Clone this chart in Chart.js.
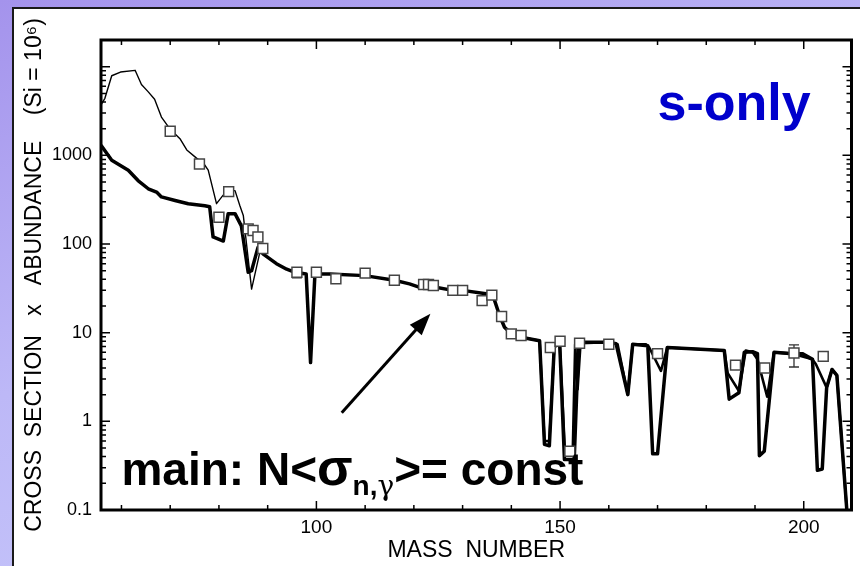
<!DOCTYPE html>
<html>
<head>
<meta charset="utf-8">
<script src="https://cdn.jsdelivr.net/npm/chart.js@4/dist/chart.umd.min.js"></script>
<style>
  html, body { margin: 0; padding: 0; }
  body {
    width: 860px; height: 566px; overflow: hidden; position: relative;
    background: linear-gradient(160deg, #a493ec 0%, #bdb8f7 45%, #cacdfc 100%);
  }
  #panel {
    position: absolute; left: 12px; top: 7px; right: 0; bottom: 0;
    background: #fff; border-left: 2px solid #1a1a1a; border-top: 2px solid #1a1a1a;
  }
  #chart { position: absolute; left: 0; top: 0; }
</style>
</head>
<body>
<div id="panel"></div>
<canvas id="chart" width="860" height="566"></canvas>
<script>
// main s-process component, sigma*N (Si = 10^6)
const mainMass = [55.8, 58, 61.4, 63.4, 65.5, 67.2, 68.2, 71, 73.7, 77.1, 78.1, 78.8, 80.9, 81.9, 83.3, 84.6,
  86, 86.7, 88, 89.1, 91.8, 93.9, 95.6, 97.9, 98.8, 99.7, 102.7, 109.9, 116, 119.1, 121.2, 123.9, 128, 130,
  134.8, 136.2, 137.6, 138.6, 140, 142, 145.8, 146.8, 147.8, 148.8, 149.9, 150.9, 152.9, 153.8, 155, 159.8,
  161.5, 163.9, 164.9, 168, 169, 170, 172, 183.7, 184.7, 186.7, 187.8, 189.5, 190.5, 190.9, 191.9, 193.9,
  197.7, 199.7, 201.8, 202.8, 203.8, 204.7, 205.8, 206.8, 208.9];
const mainSigmaN = [1300, 880, 680, 520, 420, 385, 340, 310, 285, 270, 263, 120, 108, 220, 220, 160,
  48, 50, 91, 77, 60, 52, 48, 46, 4.6, 46, 46, 44, 39, 35.5, 32.5, 33, 30, 30,
  27.5, 26.5, 15.5, 11.5, 9.7, 8.9, 8.1, 0.55, 0.53, 6.8, 8.1, 0.37, 0.37, 7.6, 7.8, 7.8,
  7.5, 2.0, 7.4, 7.1, 0.43, 0.43, 6.8, 6.3, 1.78, 2.1, 6.0, 6.1, 5.8, 0.41, 0.46, 6.0,
  5.8, 5.8, 5.0, 0.28, 0.29, 2.4, 3.85, 3.3, 0.09];

// main + weak components
const totalMass = [55.8, 56.6, 58, 59.8, 62.8, 64.1, 65.5, 66.8, 68.2, 69.9, 72, 73.4, 75.4, 76.8, 77.8,
  79.5, 81.6, 83.3, 84.3, 85, 86.7, 88.4, 89.1, 91.8, 93.9, 95.6, 97.9, 98.8, 99.7, 102.7, 109.9, 116,
  119.1, 121.2, 123.9, 128, 130, 134.8, 136.2, 137.6, 138.6, 140, 142, 145.8, 146.8, 147.8, 148.8, 149.9,
  151, 152.6, 153.1, 153.6, 154.2, 159.8, 161.8, 162.6, 163.9, 164.9, 167.6, 168.3, 170.7, 172, 183.7,
  184.4, 186.7, 188.1, 189.5, 190.5, 192.5, 193.9, 197.7, 201.8, 202.5, 204.7, 205.8, 206.8, 208.9];
const totalSigmaN = [3700, 4400, 7900, 8700, 9100, 6300, 5200, 4300, 2700, 2000, 1540, 1150, 930, 820, 680,
  285, 400, 400, 270, 210, 31, 81, 77, 60, 52, 48, 46, 4.6, 46, 46, 44, 39,
  35.5, 32.5, 33, 30, 30, 27.5, 26.5, 15.5, 11.5, 9.7, 8.9, 8.1, 0.6, 0.6, 6.8, 8.1,
  0.45, 0.45, 7.4, 2.3, 7.6, 7.8, 7.4, 4.5, 2.0, 7.4, 7.4, 6.8, 3.7, 6.8, 6.3,
  3.5, 2.2, 6.3, 6.0, 5.0, 1.9, 6.0, 5.8, 5.0, 4.4, 2.4, 3.85, 3.3, 0.09];

// s-only nuclei
const sOnlyMass = [70, 76, 80, 82, 86, 87, 88, 89, 96, 100, 104, 110, 116, 122, 123, 124, 128, 130,
  134, 136, 138, 140, 142, 148, 150, 152, 154, 160, 170, 186, 192, 198, 204];
const sOnlySigmaN = [1870, 800, 200, 390, 148, 142, 120, 89, 48, 48, 40.6, 47, 39, 35, 35, 34, 30, 30,
  23, 26.5, 15.2, 9.7, 9.3, 6.8, 8.0, 0.46, 7.6, 7.4, 5.8, 4.3, 4.0, 5.9, 5.4];
const errMass = [96, 198];
const errLow = [41.5, 4.1];
const errHigh = [51, 7.3];

const xTickLabels = [100, 150, 200];
const yTickLabels = [0.1, 1, 10, 100, 1000];

const SANS = '"Liberation Sans", Arial, Helvetica, sans-serif';

const toPoints = (xs, ys) => xs.map((x, i) => ({ x, y: ys[i] }));
const findLabel = (list, v) => list.find(l => Math.abs(v - l) < Math.abs(l) * 1e-6);

const decorations = {
  id: 'decorations',
  beforeDatasetDraw(chart, args) {
    if (args.index !== 2) return;
    const { ctx, scales: { x, y } } = chart;
    ctx.save();
    ctx.strokeStyle = '#333';
    ctx.lineWidth = 1.3;
    errMass.forEach((m, i) => {
      const px = x.getPixelForValue(m);
      const lo = y.getPixelForValue(errLow[i]);
      const hi = y.getPixelForValue(errHigh[i]);
      ctx.beginPath();
      ctx.moveTo(px, lo); ctx.lineTo(px, hi);
      ctx.moveTo(px - 5, lo); ctx.lineTo(px + 5, lo);
      ctx.moveTo(px - 5, hi); ctx.lineTo(px + 5, hi);
      ctx.stroke();
    });
    ctx.restore();
  },
  afterDraw(chart) {
    const { ctx, chartArea: a, scales: { x, y } } = chart;
    ctx.save();

    // inward ticks on all four sides
    ctx.strokeStyle = '#000';
    ctx.lineWidth = 1.5;
    ctx.beginPath();
    for (let v = Math.ceil(x.min / 10) * 10; v <= x.max; v += 10) {
      const px = x.getPixelForValue(v);
      const len = v % 50 === 0 ? 9 : 5;
      ctx.moveTo(px, a.bottom); ctx.lineTo(px, a.bottom - len);
      ctx.moveTo(px, a.top); ctx.lineTo(px, a.top + len);
    }
    for (let d = -1; d <= 4; d++) {
      for (let k = 1; k <= 9; k++) {
        const v = k * Math.pow(10, d);
        if (v < y.min * 0.999 || v > y.max * 1.001) continue;
        const py = y.getPixelForValue(v);
        const len = k === 1 ? 9 : 5;
        ctx.moveTo(a.left, py); ctx.lineTo(a.left + len, py);
        ctx.moveTo(a.right, py); ctx.lineTo(a.right - len, py);
      }
    }
    ctx.stroke();

    // plot frame
    ctx.lineWidth = 3;
    ctx.strokeRect(a.left, a.top, a.right - a.left, a.bottom - a.top);

    // arrow
    const x0 = x.getPixelForValue(105.2), y0 = y.getPixelForValue(1.25);
    const x1 = x.getPixelForValue(123.4), y1 = y.getPixelForValue(16.4);
    const ang = Math.atan2(y1 - y0, x1 - x0);
    ctx.lineWidth = 3;
    ctx.beginPath();
    ctx.moveTo(x0, y0);
    ctx.lineTo(x1 - 16 * Math.cos(ang), y1 - 16 * Math.sin(ang));
    ctx.stroke();
    ctx.fillStyle = '#000';
    ctx.beginPath();
    ctx.moveTo(x1, y1);
    ctx.lineTo(x1 - 22 * Math.cos(ang) + 8 * Math.sin(ang), y1 - 22 * Math.sin(ang) - 8 * Math.cos(ang));
    ctx.lineTo(x1 - 22 * Math.cos(ang) - 8 * Math.sin(ang), y1 - 22 * Math.sin(ang) + 8 * Math.cos(ang));
    ctx.closePath();
    ctx.fill();

    // "s-only"
    ctx.textBaseline = 'alphabetic';
    ctx.textAlign = 'left';
    ctx.fillStyle = '#0000cc';
    ctx.font = 'bold 52px ' + SANS;
    ctx.fillText('s-only', x.getPixelForValue(170), y.getPixelForValue(2500));

    // "main: N<σn,γ>= const"
    ctx.fillStyle = '#000';
    let tx = x.getPixelForValue(60);
    const ty = y.getPixelForValue(0.19);
    const piece = (text, font, dy) => {
      ctx.font = font;
      ctx.fillText(text, tx, ty + dy);
      tx += ctx.measureText(text).width;
    };
    piece('main: N<', 'bold 46px ' + SANS, 0);
    piece('σ', 'bold 52px ' + SANS, 0);
    piece('n,', 'bold 28px ' + SANS, 10);
    piece('γ', '28px "DejaVu Serif", serif', 10);
    piece('>= const', 'bold 46px ' + SANS, 0);

    ctx.restore();
  }
};

new Chart(document.getElementById('chart'), {
  type: 'scatter',
  data: {
    datasets: [
      {
        data: toPoints(mainMass, mainSigmaN),
        showLine: true,
        borderColor: '#000',
        borderWidth: 3.5,
        borderJoinStyle: 'round',
        pointRadius: 0,
        tension: 0,
        order: 2
      },
      {
        data: toPoints(totalMass, totalSigmaN),
        showLine: true,
        borderColor: '#000',
        borderWidth: 1.4,
        borderJoinStyle: 'round',
        segment: { borderWidth: c => (c.p0.parsed.x >= 139 ? 2.6 : 1.4) },
        pointRadius: 0,
        tension: 0,
        order: 1
      },
      {
        data: toPoints(sOnlyMass, sOnlySigmaN),
        showLine: false,
        pointStyle: 'rect',
        pointRadius: 7,
        pointBorderColor: '#444',
        pointBorderWidth: 1.5,
        pointBackgroundColor: '#fff',
        order: 0
      }
    ]
  },
  options: {
    responsive: false,
    animation: false,
    layout: { padding: { left: 12, top: 40, right: 8, bottom: 0 } },
    plugins: { legend: { display: false }, tooltip: { enabled: false } },
    scales: {
      x: {
        type: 'linear',
        min: 55.8,
        max: 209.8,
        grid: { display: false, drawTicks: false },
        border: { display: false },
        afterFit: s => { s.height = 56; },
        ticks: {
          stepSize: 10,
          includeBounds: false,
          autoSkip: false,
          maxRotation: 0,
          padding: 6,
          color: '#000',
          font: { family: SANS, size: 19 },
          callback: v => {
            const t = findLabel(xTickLabels, v);
            return t === undefined ? '' : String(t);
          }
        },
        title: {
          display: true,
          text: 'MASS  NUMBER',
          color: '#000',
          font: { family: SANS, size: 23 },
          padding: { top: 0, bottom: 2 }
        }
      },
      y: {
        type: 'logarithmic',
        min: 0.1,
        max: 20000,
        grid: { display: false, drawTicks: false },
        border: { display: false },
        afterFit: s => { s.width = 89; },
        ticks: {
          autoSkip: false,
          padding: 9,
          color: '#000',
          font: { family: SANS, size: 18 },
          callback: v => {
            const t = findLabel(yTickLabels, v);
            return t === undefined ? '' : String(t);
          }
        },
        title: {
          display: true,
          text: 'CROSS  SECTION   x   ABUNDANCE    (Si = 10⁶)',
          color: '#000',
          font: { family: SANS, size: 23 },
          padding: { top: 9, bottom: 0 }
        }
      }
    }
  },
  plugins: [decorations]
});
</script>
</body>
</html>
